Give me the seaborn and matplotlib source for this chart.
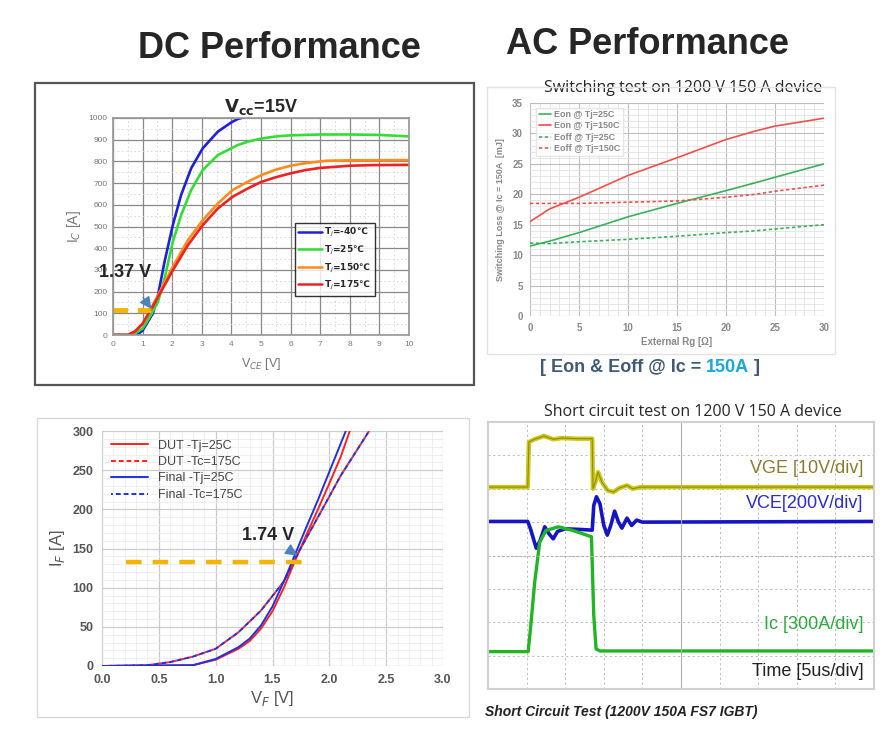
import matplotlib
matplotlib.use("Agg")
import matplotlib.pyplot as plt
import seaborn as sns
from matplotlib.patches import Rectangle
from matplotlib.text import Annotation
from matplotlib.ticker import MultipleLocator, FormatStrFormatter

# --- DC output characteristic, Ic vs Vce @ Vge = 15 V ---
vce_m40 = [0, 0.8, 1.0, 1.35, 1.52, 1.74, 2.02, 2.3, 2.64, 3.03, 3.54, 4.0, 4.21, 4.46]
ic_m40 = [0, 0, 20, 100, 183, 337, 506, 645, 768, 860, 937, 980, 995, 1005]
vce_25 = [0, 0.65, 1.0, 1.25, 1.52, 1.74, 2.02, 2.3, 2.64, 3.03, 3.54, 4.21, 4.55,
          5.0, 5.5, 6.0, 7.0, 8.0, 9.0, 10.0]
ic_25 = [0, 0, 30, 85, 152, 260, 429, 552, 668, 760, 829, 875, 891,
         905, 915, 920, 924, 924, 922, 915]
vce_150 = [0, 0.5, 0.75, 1.0, 1.25, 1.52, 2.02, 2.53, 3.03, 3.54, 4.04, 4.55,
           5.0, 5.5, 6.0, 6.5, 7.2, 8.0, 10.0]
ic_150 = [0, 0, 18, 52, 112, 183, 314, 437, 529, 606, 668, 706,
          736, 762, 780, 792, 803, 805, 806]
vce_175 = [0, 0.5, 0.75, 1.0, 1.25, 1.52, 2.02, 2.53, 3.03, 3.54, 4.04, 4.55,
           5.0, 5.5, 6.0, 6.5, 7.0, 8.0, 8.8, 10.0]
ic_175 = [0, 0, 17, 52, 110, 175, 298, 414, 506, 583, 637, 675,
          705, 727, 745, 760, 770, 780, 783, 784]
dc_labels = ["T$_j$=-40℃", "T$_j$=25℃", "T$_j$=150℃", "T$_j$=175℃"]
vce_mark = 1.37
ic_mark = 115

# --- Switching loss vs external Rg ---
rg = [0, 2, 5, 10, 15, 20, 23, 25, 30]
eon_25 = [11.5, 12.3, 13.7, 16.3, 18.5, 20.6, 21.9, 22.8, 25.0]
eon_150 = [15.5, 17.6, 19.5, 23.1, 26.0, 29.0, 30.4, 31.2, 32.5]
eoff_25 = [12.0, 11.9, 12.2, 12.6, 13.1, 13.7, 14.0, 14.3, 15.0]
eoff_150 = [18.5, 18.5, 18.5, 18.7, 18.9, 19.5, 20.0, 20.5, 21.5]

# --- Diode forward characteristic, IF vs VF ---
vf_dut25 = [0, 0.8, 1.0, 1.2, 1.3, 1.4, 1.5, 1.6, 1.7, 1.8, 1.9, 2.0, 2.1, 2.18]
if_dut25 = [0, 1, 8, 22, 32, 48, 70, 100, 135, 168, 200, 233, 267, 300]
vf_fin25 = [0, 0.8, 1.0, 1.2, 1.3, 1.4, 1.5, 1.6, 1.7, 1.8, 1.9, 2.0, 2.145]
if_fin25 = [0, 1, 9, 24, 35, 52, 76, 108, 143, 178, 212, 248, 300]
vf_175 = [0, 0.4, 0.6, 0.8, 1.0, 1.2, 1.4, 1.6, 1.72, 1.9, 2.1, 2.35]
if_175 = [0, 1, 5, 12, 22, 43, 71, 108, 143, 190, 243, 300]
vf_mark = 1.74
if_mark = 133

# --- Short circuit scope traces (in divisions) ---
t_vge = [0, 1.03, 1.06, 1.2, 1.45, 1.7, 1.9, 2.3, 2.7, 2.72, 2.78, 2.85, 2.95, 3.1,
         3.25, 3.4, 3.6, 3.75, 3.95, 10]
vge = [6.05, 6.05, 7.4, 7.48, 7.58, 7.48, 7.52, 7.5, 7.5, 6.0, 6.2, 6.5, 6.2, 5.95,
       5.9, 6.02, 6.1, 6.0, 6.05, 6.05]
t_vce = [0, 1.03, 1.1, 1.25, 1.35, 1.47, 1.58, 1.69, 1.8, 2.0, 2.4, 2.7, 2.74, 2.81,
         2.9, 3.0, 3.09, 3.18, 3.28, 3.38, 3.47, 3.6, 3.72, 3.85, 4.0, 10]
vce = [5.02, 5.02, 4.8, 4.22, 4.45, 4.86, 4.65, 4.5, 4.72, 4.8, 4.78, 4.76, 5.5, 5.76,
       5.55, 4.9, 4.61, 4.9, 5.33, 5.0, 4.82, 5.12, 4.9, 5.06, 5.0, 5.02]
t_ic = [0, 1.04, 1.1, 1.21, 1.34, 1.5, 1.82, 2.2, 2.68, 2.74, 2.8, 2.9, 10]
ic = [1.12, 1.12, 1.8, 3.2, 4.4, 4.75, 4.86, 4.75, 4.56, 2.2, 1.2, 1.14, 1.14]

W, H = 889, 742


def rect(l, t, r, b):
    return [l / W, 1 - b / H, (r - l) / W, (b - t) / H]


sns.set_theme(style="white")
plt.rcParams["font.family"] = ["Liberation Sans", "DejaVu Sans"]

fig = plt.figure(figsize=(W / 100, H / 100), dpi=100)
fig.patch.set_facecolor("white")

fig.text(279 / W, 1 - 49 / H, "DC Performance", fontsize=26, fontweight="bold",
         ha="center", va="center")
fig.text(648 / W, 1 - 45 / H, "AC Performance", fontsize=26, fontweight="bold",
         ha="center", va="center")

# panel frames
fig.patches.append(Rectangle((35 / W, 1 - 385 / H), 439 / W, 302 / H, transform=fig.transFigure,
                             fill=False, edgecolor="#555555", lw=1.6))
fig.patches.append(Rectangle((487 / W, 1 - 354 / H), 348 / W, 267 / H, transform=fig.transFigure,
                             fill=False, edgecolor="#e2e2e2", lw=1))
fig.patches.append(Rectangle((37 / W, 1 - 717 / H), 432 / W, 299 / H, transform=fig.transFigure,
                             fill=False, edgecolor="#d8d8d8", lw=1))

# ---------- DC output characteristic ----------
ax1 = fig.add_axes(rect(113, 118, 409, 335))
dc_sets = [(vce_m40, ic_m40, "#1f1fe0"), (vce_25, ic_25, "#33dd33"),
           (vce_150, ic_150, "#ff8c1a"), (vce_175, ic_175, "#ee2222")]
for (x, y, c), lab in zip(dc_sets, dc_labels):
    sns.lineplot(x=x, y=y, ax=ax1, color=c, lw=1.9, label=lab, estimator=None)
ax1.plot([0, vce_mark - 0.1], [ic_mark, ic_mark], color="#f5b400", lw=3.5, ls=(0, (3, 2)))
ax1.annotate("1.37 V", xy=(vce_mark - 0.07, ic_mark + 5), xytext=(0.4, 290),
             fontsize=13, fontweight="bold", ha="center", va="center",
             arrowprops=dict(arrowstyle="-|>", color="#4f81bd", lw=1, mutation_scale=18,
                             shrinkA=12, shrinkB=0))
ax1.set_xlim(0, 10)
ax1.set_ylim(0, 1000)
ax1.xaxis.set_major_locator(MultipleLocator(1))
ax1.yaxis.set_major_locator(MultipleLocator(100))
ax1.xaxis.set_minor_locator(MultipleLocator(0.5))
ax1.yaxis.set_minor_locator(MultipleLocator(50))
ax1.grid(True, which="major", color="#888888", lw=0.9)
ax1.grid(True, which="minor", color="#d5d5d5", lw=0.6, ls=(0, (2, 3)))
ax1.tick_params(labelsize=6, colors="#777777", length=2, pad=2)
for s in ax1.spines.values():
    s.set_color("#999999")
ax1.set_xlabel("V$_{CE}$ [V]", fontsize=9, color="#777777", labelpad=6)
ax1.set_ylabel("I$_C$ [A]", fontsize=10, color="#777777", labelpad=4)
ax1.set_title(r"$\mathbf{V_{cc}}$=15V", fontsize=13, fontweight="bold", pad=4)
leg1 = ax1.legend(loc="lower left", bbox_to_anchor=(0.598, 0.16), fontsize=6.5,
                  handlelength=2.6, fancybox=False, frameon=True, borderpad=0.4,
                  labelspacing=0.5, handletextpad=0.3)
leg1.get_frame().set_edgecolor("black")
leg1.get_frame().set_linewidth(1)
for t in leg1.get_texts():
    t.set_fontweight("bold")
    t.set_fontfamily("DejaVu Sans")
for l in leg1.get_lines():
    l.set_linewidth(1.8)

# ---------- Switching loss ----------
ax2 = fig.add_axes(rect(530, 103, 824, 316))
sns.lineplot(x=rg, y=eon_25, ax=ax2, color="#3cb05a", lw=1.2, label="Eon @ Tj=25C")
sns.lineplot(x=rg, y=eon_150, ax=ax2, color="#f0504a", lw=1.2, label="Eon @ Tj=150C")
sns.lineplot(x=rg, y=eoff_25, ax=ax2, color="#3cb05a", lw=1.2, ls=(0, (2, 1.5)),
             label="Eoff @ Tj=25C")
sns.lineplot(x=rg, y=eoff_150, ax=ax2, color="#f0504a", lw=1.2, ls=(0, (2, 1.5)),
             label="Eoff @ Tj=150C")
ax2.set_xlim(0, 30)
ax2.set_ylim(0, 35)
ax2.xaxis.set_major_locator(MultipleLocator(5))
ax2.yaxis.set_major_locator(MultipleLocator(5))
ax2.xaxis.set_minor_locator(MultipleLocator(1))
ax2.yaxis.set_minor_locator(MultipleLocator(1))
ax2.grid(True, which="major", color="#bdbdbd", lw=0.8)
ax2.grid(True, which="minor", color="#e3e3e3", lw=0.6)
ax2.tick_params(labelsize=7, colors="#888888", length=0, pad=5)
for lab in ax2.get_xticklabels() + ax2.get_yticklabels():
    lab.set_fontweight("bold")
for s in ax2.spines.values():
    s.set_visible(False)
ax2.set_xlabel("External Rg [Ω]", fontsize=7, color="#888888", fontweight="bold", labelpad=3)
ax2.set_ylabel("Switching Loss @ Ic = 150A  [mJ]", fontsize=6.5, color="#888888",
               fontweight="bold", labelpad=5)
ax2.set_title("Switching test on 1200 V 150 A device", fontsize=11.5, pad=8,
              family=["Open Sans", "DejaVu Sans"], x=0.52)
leg2 = ax2.legend(loc="upper left", bbox_to_anchor=(0.005, 1.0), fontsize=6.5,
                  handlelength=1.4, fancybox=False, borderpad=0.3, labelspacing=0.25,
                  handletextpad=0.3)
leg2.get_frame().set_edgecolor("#e0e0e0")
for t in leg2.get_texts():
    t.set_fontweight("bold")
    t.set_color("#888888")

cap_color = "#3f5a78"
t1 = fig.text(540 / W, 1 - 367 / H, "[ Eon & Eoff @ Ic = ", fontsize=13, fontweight="bold",
              color=cap_color, va="center")
a2 = fig.add_artist(Annotation("150A", xy=(1, 0), xycoords=t1, va="bottom",
                               fontsize=13, fontweight="bold", color="#1aa7e0"))
fig.add_artist(Annotation(" ]", xy=(1, 0), xycoords=a2, va="bottom",
                          fontsize=13, fontweight="bold", color=cap_color))

# ---------- Diode forward ----------
ax3 = fig.add_axes(rect(102, 431, 443, 666))
sns.lineplot(x=vf_dut25, y=if_dut25, ax=ax3, color="#ff2020", lw=1.4, label="DUT -Tj=25C")
sns.lineplot(x=vf_175, y=if_175, ax=ax3, color="#ff2020", lw=1.4, ls=(0, (2.5, 1.5)),
             label="DUT -Tc=175C")
sns.lineplot(x=vf_fin25, y=if_fin25, ax=ax3, color="#2030e0", lw=1.4, label="Final -Tj=25C")
sns.lineplot(x=vf_175, y=if_175, ax=ax3, color="#2030e0", lw=1.4, ls=(1.5, (2.5, 1.5)),
             label="Final -Tc=175C")
ax3.plot([0.21, 1.82], [if_mark, if_mark], color="#f5b400", lw=3.2, ls=(0, (3.5, 2.5)))
ax3.annotate("1.74 V", xy=(vf_mark - 0.02, if_mark + 8), xytext=(1.46, 166),
             fontsize=13, fontweight="bold", ha="center", va="center",
             arrowprops=dict(arrowstyle="-|>", color="#4f81bd", lw=1, mutation_scale=18,
                             shrinkA=8, shrinkB=0))
ax3.set_xlim(0, 3)
ax3.set_ylim(0, 300)
ax3.xaxis.set_major_locator(MultipleLocator(0.5))
ax3.yaxis.set_major_locator(MultipleLocator(50))
ax3.xaxis.set_minor_locator(MultipleLocator(0.1))
ax3.yaxis.set_minor_locator(MultipleLocator(10))
ax3.xaxis.set_major_formatter(FormatStrFormatter("%.1f"))
ax3.grid(True, which="major", color="#cccccc", lw=0.9)
ax3.grid(True, which="minor", color="#ececec", lw=0.6)
ax3.tick_params(labelsize=9, colors="#555555", length=0, pad=6)
for lab in ax3.get_xticklabels() + ax3.get_yticklabels():
    lab.set_fontweight("bold")
for s in ax3.spines.values():
    s.set_visible(False)
ax3.set_xlabel("V$_F$ [V]", fontsize=12, color="#555555", labelpad=2)
ax3.set_ylabel("I$_F$ [A]", fontsize=12, color="#555555", labelpad=4)
leg3 = ax3.legend(loc="upper left", fontsize=9, frameon=False, handlelength=3,
                  labelspacing=0.35, borderaxespad=0.3)
for t in leg3.get_texts():
    t.set_color("#444444")

# ---------- Short circuit scope ----------
ax4 = fig.add_axes(rect(488, 422, 874, 689))
sns.lineplot(x=t_vge, y=vge, ax=ax4, color="#cfc814", lw=3.2)
sns.lineplot(x=t_vge, y=vge, ax=ax4, color="#8f8a10", lw=0.8)
sns.lineplot(x=t_vce, y=vce, ax=ax4, color="#1515c8", lw=2.6)
sns.lineplot(x=t_ic, y=ic, ax=ax4, color="#22b422", lw=2.4)
ax4.set_xlim(0, 10)
ax4.set_ylim(0, 8)
ax4.set_xticks(range(11))
ax4.set_yticks(range(9))
ax4.grid(True, color="#b8b8b8", lw=0.7, ls=(0, (2, 3)))
ax4.axvline(5, color="#b0b0b0", lw=0.8)
ax4.axhline(4, color="#b0b0b0", lw=0.8, ls=(0, (2, 2)))
ax4.tick_params(length=0, labelbottom=False, labelleft=False)
for s in ax4.spines.values():
    s.set_color("#d0d0d0")
    s.set_linewidth(1.5)
ax4.text(9.72, 6.6, "VGE [10V/div]", color="#8a7a30", fontsize=13, ha="right", va="center")
ax4.text(9.72, 5.56, "VCE[200V/div]", color="#2a2ad8", fontsize=13, ha="right", va="center")
ax4.text(9.72, 1.92, "Ic [300A/div]", color="#2aaa3a", fontsize=13, ha="right", va="center")
ax4.text(9.72, 0.53, "Time [5us/div]", color="#222222", fontsize=13, ha="right", va="center")
ax4.set_title("Short circuit test on 1200 V 150 A device", fontsize=11.5, pad=4,
              family=["Open Sans", "DejaVu Sans"], x=0.53)
fig.text(485 / W, 1 - 712 / H, "Short Circuit Test (1200V 150A FS7 IGBT)", fontsize=10,
         fontweight="bold", fontstyle="italic", va="center", color="#222222")

fig.savefig("out.png", dpi=100)
